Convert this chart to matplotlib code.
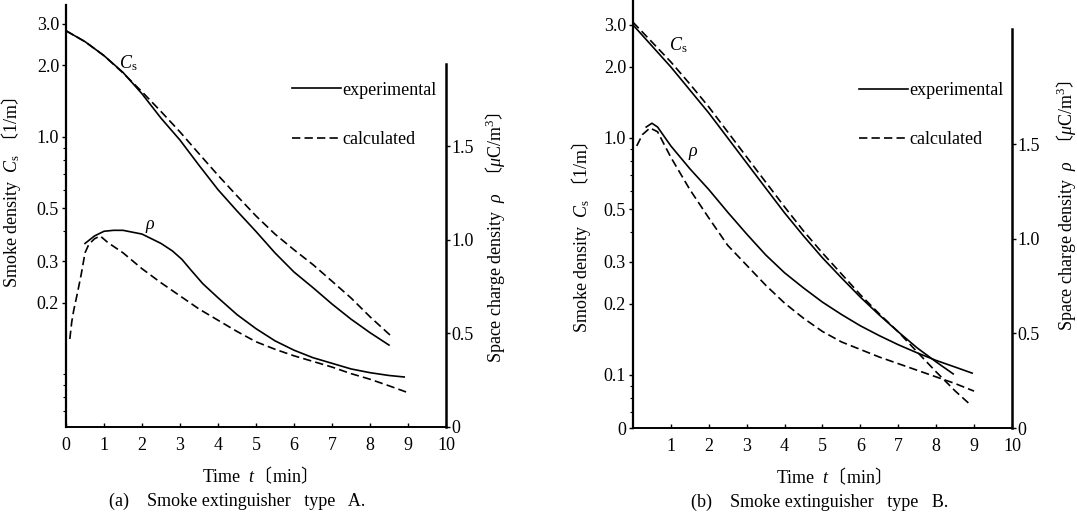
import numpy as np
import matplotlib
matplotlib.use('Agg')
import matplotlib.pyplot as plt
from matplotlib.lines import Line2D
from matplotlib.ticker import FixedLocator, LogLocator, NullFormatter

plt.rcParams['font.family'] = ['Liberation Serif', 'Noto Sans CJK JP', 'DejaVu Serif']
plt.rcParams['mathtext.fontset'] = 'custom'
plt.rcParams['mathtext.rm'] = 'Liberation Serif'
plt.rcParams['mathtext.it'] = 'Liberation Serif:italic'
plt.rcParams['mathtext.sf'] = 'Noto Sans CJK JP'

# (a) Smoke extinguisher type A
t_a_cs_exp = [0, 0.5, 1, 1.5, 2, 2.5, 3, 3.5, 4, 4.5, 5, 5.5, 6, 6.5, 7, 7.5, 8, 8.5]
cs_a_exp = [2.8, 2.52, 2.2, 1.87, 1.52, 1.2, 0.97, 0.76, 0.6, 0.488, 0.40, 0.325,
            0.27, 0.232, 0.198, 0.171, 0.15, 0.133]
t_a_cs_calc = [0, 0.5, 1, 1.5, 2, 2.5, 3, 3.5, 4, 4.5, 5, 5.5, 6, 6.5, 7, 7.5, 8, 8.6]
cs_a_calc = [2.8, 2.52, 2.2, 1.86, 1.55, 1.28, 1.05, 0.85, 0.69, 0.565, 0.465, 0.39,
             0.335, 0.29, 0.247, 0.21, 0.175, 0.143]
t_a_rho_exp = [0.5, 0.75, 1.0, 1.25, 1.5, 2.0, 2.5, 2.8, 3.05, 3.3, 3.6, 4.0, 4.5, 5.0,
               5.5, 6.0, 6.5, 7.0, 7.5, 8.0, 8.5, 8.9]
rho_a_exp = [0.98, 1.02, 1.045, 1.05, 1.05, 1.03, 0.98, 0.94, 0.895, 0.835, 0.765, 0.69,
             0.60, 0.525, 0.46, 0.41, 0.37, 0.34, 0.31, 0.29, 0.275, 0.267]
t_a_rho_calc = [0.1, 0.15, 0.2, 0.3, 0.4, 0.5, 0.6, 0.75, 0.9, 1.1, 1.5, 2.0, 2.5, 3.0,
                3.5, 4.0, 4.5, 5.0, 5.5, 6.0, 6.5, 7.0, 7.5, 8.0, 8.5, 8.95]
rho_a_calc = [0.47, 0.56, 0.62, 0.715, 0.815, 0.93, 0.975, 1.005, 1.02, 0.985, 0.93,
              0.845, 0.77, 0.70, 0.63, 0.57, 0.51, 0.455, 0.415, 0.38, 0.35, 0.32,
              0.285, 0.255, 0.22, 0.187]

# (b) Smoke extinguisher type B
t_b_cs_exp = [0, 0.5, 1, 1.5, 2, 2.5, 3, 3.5, 4, 4.5, 5, 5.5, 6, 6.5, 7, 7.5, 8, 8.45]
cs_b_exp = [3.0, 2.445, 1.993, 1.594, 1.275, 1.0, 0.784, 0.615, 0.483, 0.386, 0.312,
            0.257, 0.213, 0.179, 0.152, 0.130, 0.1135, 0.101]
t_b_cs_calc = [0, 0.5, 1, 1.5, 2, 2.5, 3, 3.5, 4, 4.5, 5, 5.5, 6, 6.5, 7, 7.5, 8, 8.5, 8.85]
cs_b_calc = [3.08, 2.54, 2.093, 1.69, 1.352, 1.06, 0.831, 0.652, 0.512, 0.405, 0.327,
             0.267, 0.218, 0.181, 0.152, 0.125, 0.103, 0.0856, 0.0762]
t_b_rho_exp = [0.35, 0.5, 0.65, 1.0, 1.5, 2, 2.5, 3, 3.5, 4, 4.5, 5, 5.5, 6, 6.5, 7,
               7.5, 8, 8.5, 8.95]
rho_b_exp = [1.59, 1.61, 1.59, 1.49, 1.37, 1.26, 1.14, 1.025, 0.915, 0.82, 0.74, 0.665,
             0.6, 0.54, 0.488, 0.44, 0.397, 0.357, 0.322, 0.29]
t_b_rho_calc = [0.1, 0.25, 0.45, 0.65, 1.0, 1.5, 2, 2.5, 3, 3.5, 4, 4.5, 5, 5.5, 6,
                6.5, 7, 7.5, 8, 8.5, 9.0]
rho_b_calc = [1.49, 1.55, 1.585, 1.565, 1.43, 1.26, 1.11, 0.965, 0.86, 0.755, 0.66,
              0.58, 0.51, 0.455, 0.415, 0.375, 0.34, 0.305, 0.27, 0.235, 0.195]

cs_ticks = [0.2, 0.3, 0.5, 1.0, 2.0, 3.0]
cs_ticklabels = ['0.2', '0.3', '0.5', '1.0', '2.0', '3.0']
rho_ticks = [0, 0.5, 1.0, 1.5]
rho_ticklabels = ['0', '0.5', '1.0', '1.5']

CS_LABEL = 'Smoke density  $C_{\\mathrm{s}}$ $\\mathsf{〔}$1/m$\\mathsf{〕}$'
RHO_LABEL = 'Space charge density  $\\rho$  $\\mathsf{〔}\\mu\\mathrm{C/m}^3\\mathsf{〕}$'
T_LABEL = 'Time  $t$$\\mathsf{〔}$min$\\mathsf{〕}$'

FS = 13
DASH = (5, 2.5)


def panel(fig, rect, cs_lim, rho_lim, rho_top, d):
    ax = fig.add_axes(rect)
    ax.set_yscale('log')
    ax.set_xlim(0, 10)
    ax.set_ylim(*cs_lim)
    ax2 = ax.twinx()
    ax2.set_ylim(*rho_lim)

    ax.plot(d['t_cs_exp'], d['cs_exp'], color='black', lw=1.2)
    ax.plot(d['t_cs_calc'], d['cs_calc'], color='black', lw=1.2, dashes=DASH)
    ax2.plot(d['t_rho_exp'], d['rho_exp'], color='black', lw=1.2)
    ax2.plot(d['t_rho_calc'], d['rho_calc'], color='black', lw=1.2, dashes=DASH)

    for a in (ax, ax2):
        a.spines['top'].set_visible(False)
    ax.spines['right'].set_visible(False)
    ax2.spines['left'].set_visible(False)
    ax2.spines['bottom'].set_visible(False)
    ax.spines['left'].set_linewidth(1.6)
    ax.spines['bottom'].set_linewidth(1.4)
    ax2.spines['right'].set_linewidth(1.8)
    ax2.spines['right'].set_bounds(0, rho_top)

    ax.yaxis.set_major_locator(FixedLocator(d['cs_ticks']))
    ax.set_yticklabels(d['cs_ticklabels'])
    ax.yaxis.set_minor_locator(LogLocator(base=10, subs=np.arange(1, 10)))
    ax.yaxis.set_minor_formatter(NullFormatter())
    ax.tick_params(axis='y', which='major', direction='out', length=3, width=1,
                   labelsize=FS, pad=2)
    ax.tick_params(axis='y', which='minor', direction='out', length=2, width=0.8)

    ax.set_xticks(d['xticks'])
    ax.set_xticklabels([str(v) for v in d['xticks']])
    ax.tick_params(axis='x', direction='in', length=3, width=1, labelsize=FS, pad=7)

    ax2.set_yticks(rho_ticks)
    ax2.set_yticklabels(rho_ticklabels)
    ax2.tick_params(axis='y', direction='out', length=3, width=1, labelsize=FS, pad=1)

    ax.set_ylabel(CS_LABEL, fontsize=FS)
    ax.yaxis.set_label_coords(*d['cs_label_xy'])
    ax2.set_ylabel(RHO_LABEL, fontsize=FS)
    ax2.yaxis.set_label_coords(*d['rho_label_xy'])
    ax.set_xlabel(T_LABEL, fontsize=FS)
    ax.xaxis.set_label_coords(*d['t_label_xy'])

    ax.text(d['cs_text'][0], d['cs_text'][1], '$C_{\\mathrm{s}}$', fontsize=FS,
            ha='center', va='center')
    ax2.text(d['rho_text'][0], d['rho_text'][1], '$\\rho$', fontsize=FS,
             ha='center', va='center')

    handles = [Line2D([], [], color='black', lw=1.2),
               Line2D([], [], color='black', lw=1.2, dashes=DASH)]
    ax.legend(handles, ['experimental', 'calculated'], loc='upper left',
              bbox_to_anchor=d['leg_xy'], frameon=False, fontsize=FS,
              handlelength=2.7, handletextpad=0.1, labelspacing=1.78,
              borderpad=0, borderaxespad=0)
    return ax, ax2


fig = plt.figure(figsize=(10.77, 5.16), dpi=100)

panel(fig, [0.0613, 0.1725, 0.3528, 0.8178], (0.0601, 3.595), (0, 2.253), 1.94,
      dict(t_cs_exp=t_a_cs_exp, cs_exp=cs_a_exp, t_cs_calc=t_a_cs_calc, cs_calc=cs_a_calc,
           t_rho_exp=t_a_rho_exp, rho_exp=rho_a_exp, t_rho_calc=t_a_rho_calc,
           rho_calc=rho_a_calc, cs_ticks=cs_ticks, cs_ticklabels=cs_ticklabels,
           xticks=list(range(0, 11)), cs_label_xy=(-0.113, 0.555),
           rho_label_xy=(1.097, 0.448), t_label_xy=(0.497, -0.090),
           cs_text=(1.64, 2.05), rho_text=(2.22, 1.07), leg_xy=(0.595, 0.818)))

panel(fig, [0.5877, 0.1705, 0.3519, 0.8295], (0.0597, 3.82), (0, 2.261), 2.11,
      dict(t_cs_exp=t_b_cs_exp, cs_exp=cs_b_exp, t_cs_calc=t_b_cs_calc, cs_calc=cs_b_calc,
           t_rho_exp=t_b_rho_exp, rho_exp=rho_b_exp, t_rho_calc=t_b_rho_calc,
           rho_calc=rho_b_calc, cs_ticks=[0.0597, 0.1] + cs_ticks,
           cs_ticklabels=['0', '0.1'] + cs_ticklabels,
           xticks=list(range(1, 11)), cs_label_xy=(-0.106, 0.444),
           rho_label_xy=(1.110, 0.519), t_label_xy=(0.515, -0.089),
           cs_text=(1.19, 2.47), rho_text=(1.59, 1.45), leg_xy=(0.596, 0.808)))

fig.text(0.220, 0.029, '(a)    Smoke extinguisher   type   A.', fontsize=FS,
         ha='center', va='center')
fig.text(0.761, 0.027, '(b)    Smoke extinguisher   type   B.', fontsize=FS,
         ha='center', va='center')

fig.savefig('out.png', dpi=100)
